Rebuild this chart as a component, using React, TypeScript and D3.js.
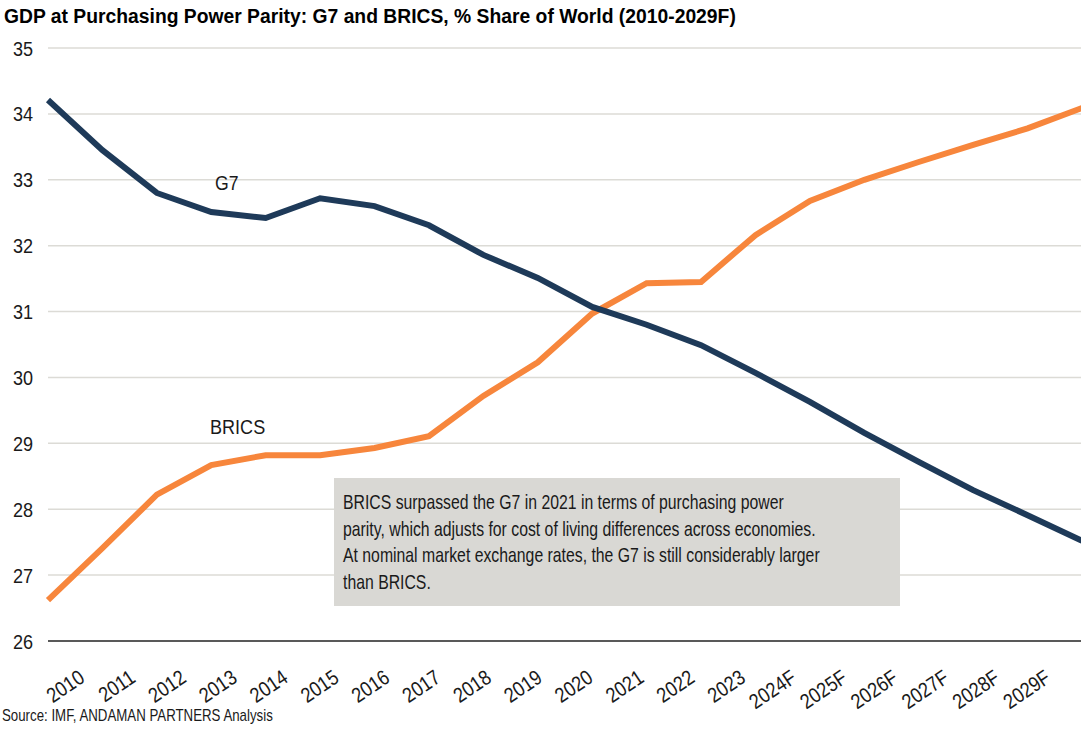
import React, { useEffect, useRef } from "react";
import * as d3 from "d3";

// data
const years = [
  "2010", "2011", "2012", "2013", "2014", "2015", "2016", "2017", "2018", "2019",
  "2020", "2021", "2022", "2023", "2024F", "2025F", "2026F", "2027F", "2028F", "2029F",
];
const g7 = [
  34.21, 33.45, 32.8, 32.51, 32.42, 32.72, 32.6, 32.31, 31.86, 31.51,
  31.07, 30.8, 30.49, 30.07, 29.63, 29.16, 28.72, 28.29, 27.91, 27.52,
];
const brics = [
  26.62, 27.41, 28.22, 28.67, 28.82, 28.82, 28.93, 29.11, 29.72, 30.23,
  30.97, 31.43, 31.45, 32.16, 32.68, 33.0, 33.27, 33.53, 33.78, 34.09,
];
const yTicks = [26, 27, 28, 29, 30, 31, 32, 33, 34, 35];
const noteLines = [
  "BRICS surpassed the G7 in 2021 in terms of purchasing power",
  "parity, which adjusts for cost of living differences across economies.",
  "At nominal market exchange rates, the G7 is still considerably larger",
  "than BRICS.",
];

const W = 1081,
  H = 729;
const font = "'Liberation Sans', Arial, sans-serif";
const ink = "#1a1a1a";

// no narrow font installed, so squeeze the regular one horizontally
const narrow = (x: number, y: number, sx: number, rot = 0) =>
  `translate(${x},${y}) rotate(${rot}) scale(${sx},1)`;

export default function App() {
  const ref = useRef<SVGSVGElement>(null);

  useEffect(() => {
    const svg = d3.select(ref.current);
    svg.selectAll("*").remove();

    const x = d3.scalePoint<string>().domain(years).range([48, 1082]);
    const xLab = d3.scalePoint<string>().domain(years).range([86, 1052]);
    const y = d3.scaleLinear().domain([26, 35]).range([641, 48]);

    // title
    svg
      .append("text")
      .attr("transform", narrow(4, 23, 0.92))
      .attr("font-family", font)
      .attr("font-weight", "bold")
      .attr("font-size", 21)
      .attr("fill", "#000")
      .text("GDP at Purchasing Power Parity: G7 and BRICS, % Share of World (2010-2029F)");

    // gridlines
    svg
      .append("g")
      .selectAll("line")
      .data(yTicks.filter((d) => d > 26))
      .enter()
      .append("line")
      .attr("x1", 48)
      .attr("x2", W)
      .attr("y1", (d) => y(d))
      .attr("y2", (d) => y(d))
      .attr("stroke", "#dcdbd6")
      .attr("stroke-width", 1.5);

    // y labels
    svg
      .append("g")
      .selectAll("text")
      .data(yTicks)
      .enter()
      .append("text")
      .attr("transform", (d) => narrow(33, y(d), 0.86))
      .attr("dy", "0.36em")
      .attr("text-anchor", "end")
      .attr("font-family", font)
      .attr("font-size", 21)
      .attr("fill", ink)
      .text((d) => d);

    // x axis baseline
    svg
      .append("line")
      .attr("x1", 48)
      .attr("x2", W)
      .attr("y1", y(26))
      .attr("y2", y(26))
      .attr("stroke", "#595959")
      .attr("stroke-width", 2);

    // x labels
    svg
      .append("g")
      .selectAll("text")
      .data(years)
      .enter()
      .append("text")
      .attr("transform", (d) => narrow(xLab(d) as number, 681, 0.86, -34))
      .attr("text-anchor", "end")
      .attr("font-family", font)
      .attr("font-size", 21)
      .attr("fill", ink)
      .text((d) => d);

    // annotation box
    svg
      .append("rect")
      .attr("x", 334)
      .attr("y", 478)
      .attr("width", 566)
      .attr("height", 128)
      .attr("fill", "#d9d8d4");

    svg
      .append("g")
      .selectAll("text")
      .data(noteLines)
      .enter()
      .append("text")
      .attr("transform", (d, i) => narrow(343, 509 + i * 26.5, 0.79))
      .attr("font-family", font)
      .attr("font-size", 20)
      .attr("fill", ink)
      .text((d) => d);

    // lines
    const line = d3
      .line<number>()
      .x((d, i) => x(years[i]) as number)
      .y((d) => y(d));

    const plot = svg.append("g");
    plot
      .append("path")
      .datum(brics)
      .attr("d", line)
      .attr("fill", "none")
      .attr("stroke", "#f7863c")
      .attr("stroke-width", 6);
    plot
      .append("path")
      .datum(g7)
      .attr("d", line)
      .attr("fill", "none")
      .attr("stroke", "#1e3a59")
      .attr("stroke-width", 6);

    // series labels
    svg
      .append("text")
      .attr("transform", narrow(215, 190, 0.84))
      .attr("font-family", font)
      .attr("font-size", 21)
      .attr("fill", ink)
      .text("G7");
    svg
      .append("text")
      .attr("transform", narrow(210, 434, 0.86))
      .attr("font-family", font)
      .attr("font-size", 21)
      .attr("fill", ink)
      .text("BRICS");

    // source
    svg
      .append("text")
      .attr("transform", narrow(2, 721, 0.83))
      .attr("font-family", font)
      .attr("font-size", 16)
      .attr("fill", ink)
      .text("Source: IMF, ANDAMAN PARTNERS Analysis");
  }, []);

  return (
    <svg
      ref={ref}
      width={W}
      height={H}
      style={{ position: "absolute", left: 0, top: 0, background: "#fff" }}
    ></svg>
  );
}
